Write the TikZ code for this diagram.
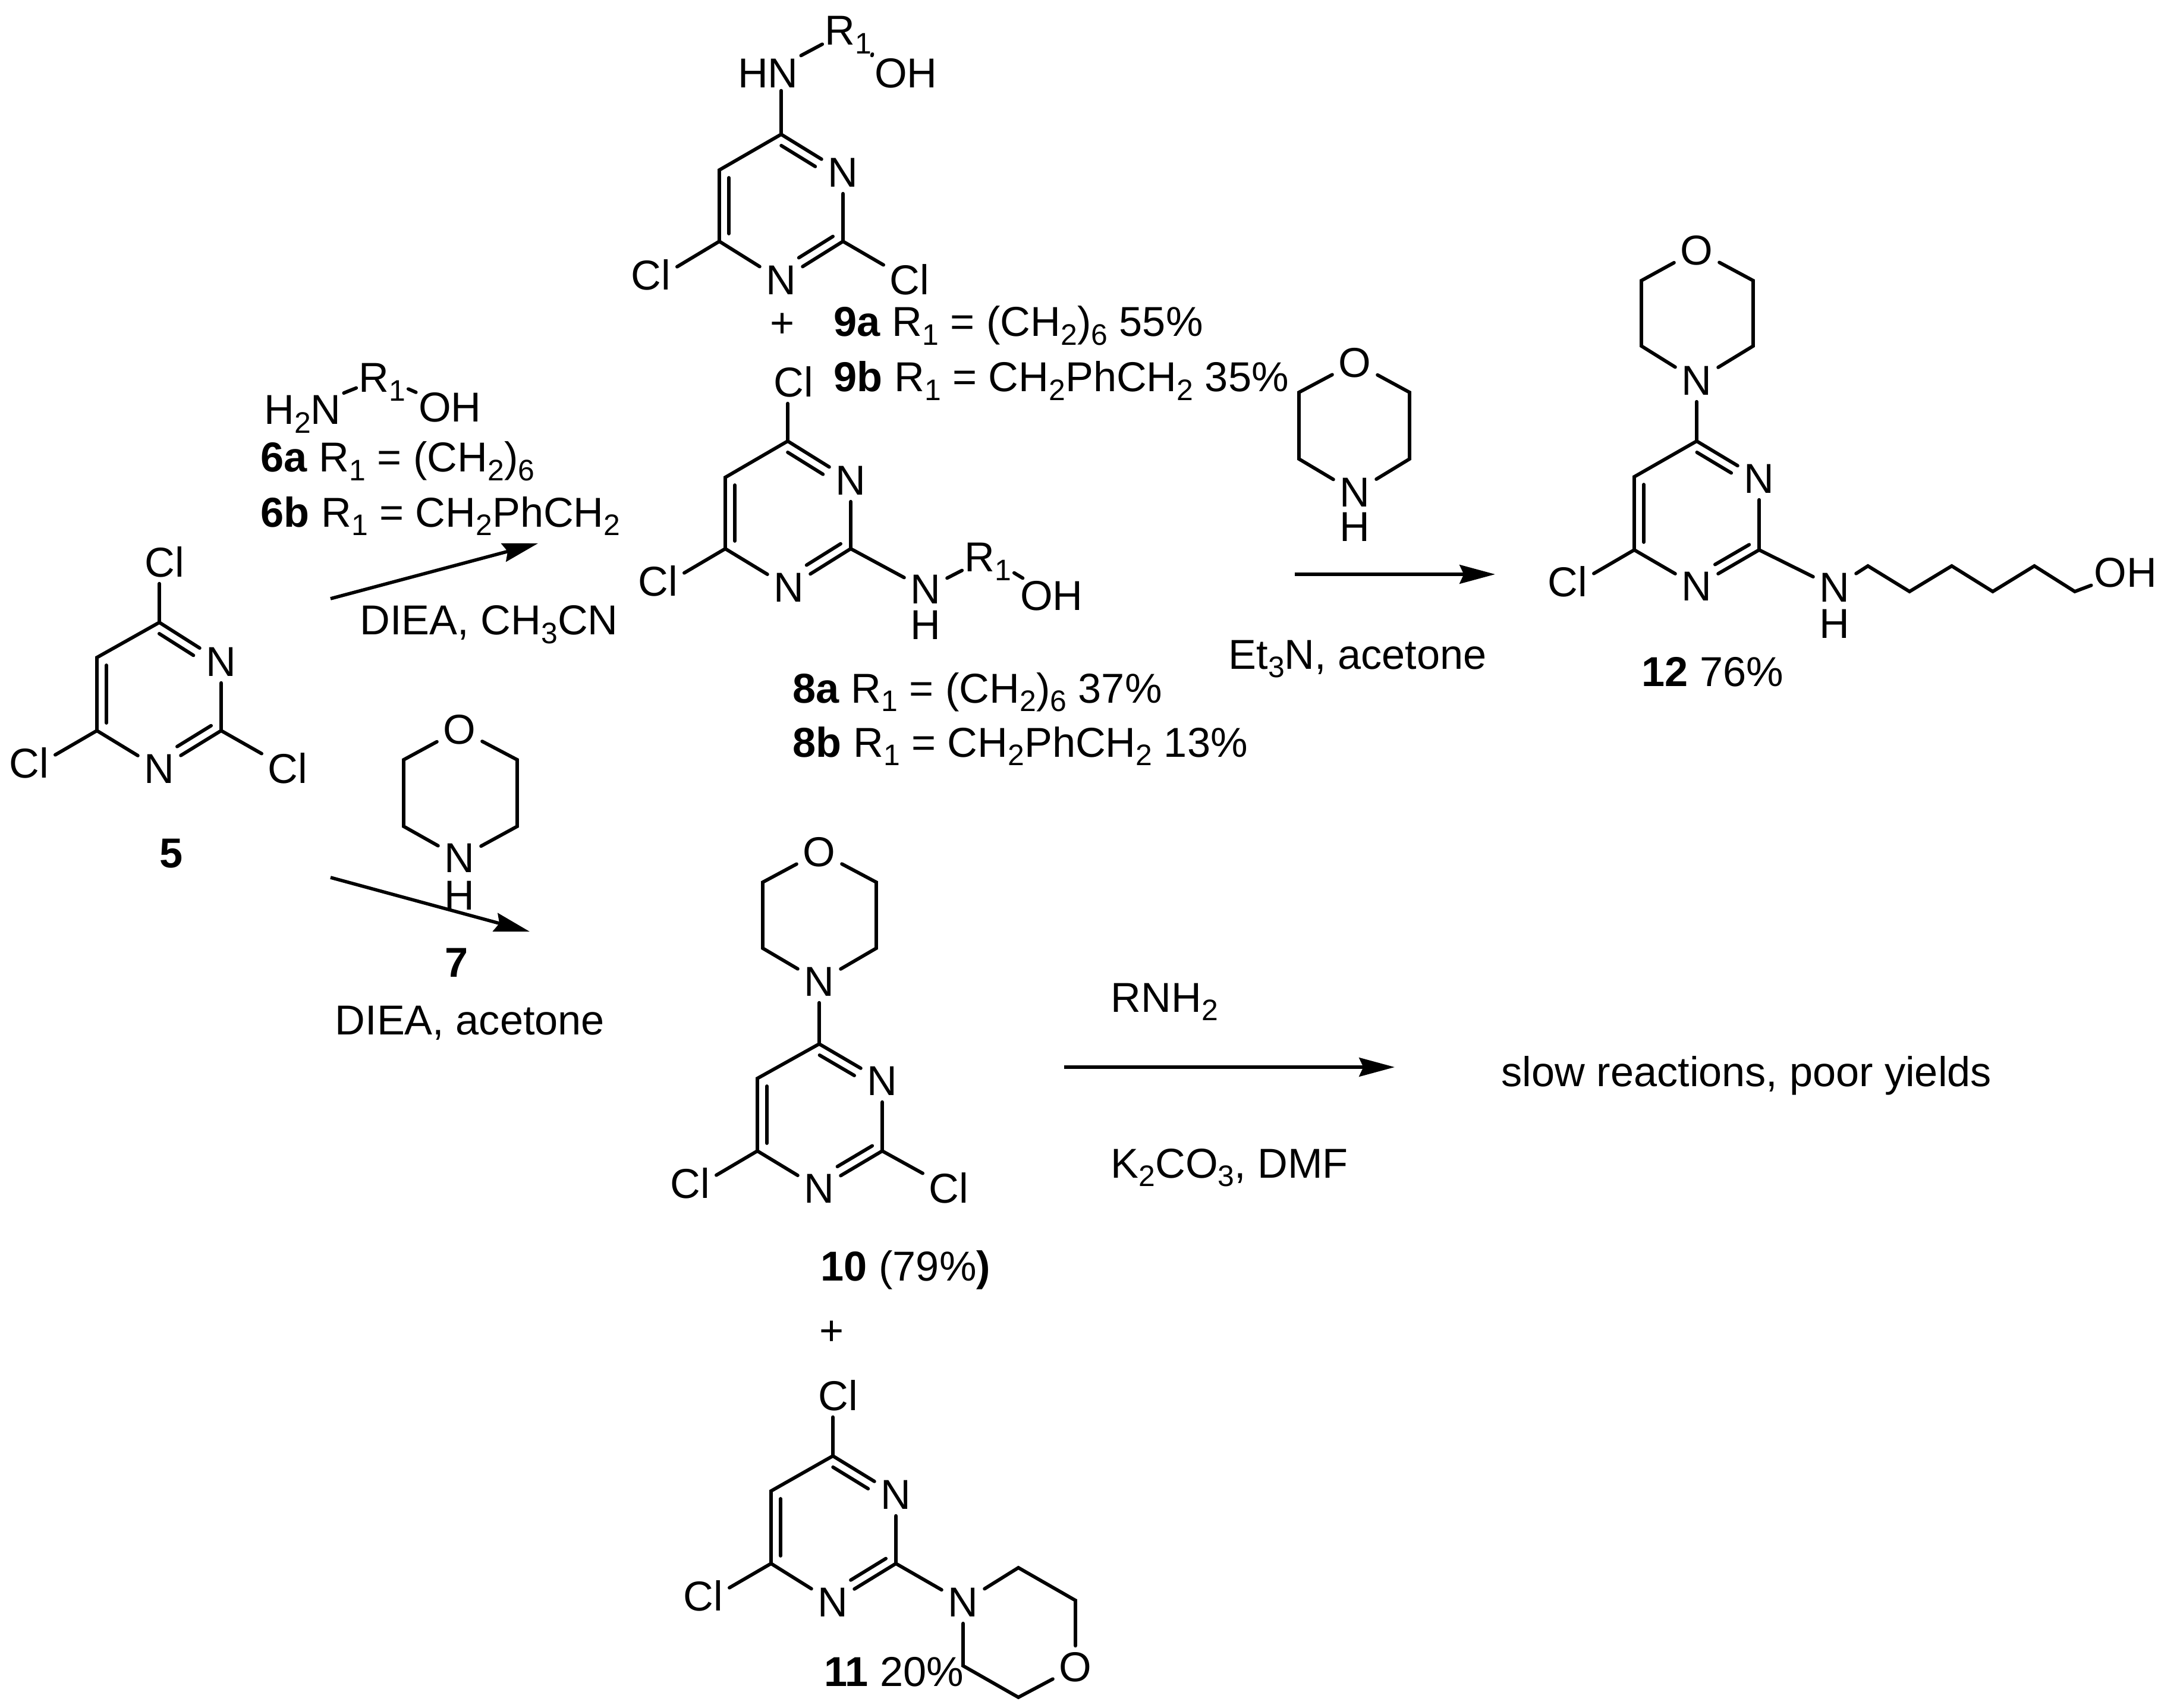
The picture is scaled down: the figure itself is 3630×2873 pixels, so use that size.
\documentclass[tikz,border=0pt]{standalone}
\usepackage{fontspec}
\setmainfont{Liberation Sans}
\usetikzlibrary{arrows.meta,calc}
\newcommand{\lowsub}[1]{\raisebox{-0.2em}{\fontsize{14.2}{15}\selectfont #1}}

\begin{document}
\begin{tikzpicture}[x=0.1mm,y=0.1mm,
  every node/.style={font=\fontsize{20}{24}\selectfont},
  atom/.style={inner sep=2.85pt,text height=14.2pt,text depth=0pt},
  rgroup/.style={inner sep=1.1pt,text height=14.2pt,text depth=0pt},
  lbl/.style={anchor=base west,inner sep=0pt},
  bond/.style={line width=1.65pt,line cap=round},
  innern/.style={bond,shorten <=1mm,shorten >=4.5mm},
  innerc/.style={bond,shorten <=1.3mm,shorten >=1.3mm},
  rxn/.style={line width=1.6pt,-{Stealth[length=17pt,width=9pt,inset=2pt]}}]
\useasboundingbox (0,0) rectangle (3630,-2873);
% compound 5
\coordinate (r5c4) at (268,-1047);
\coordinate (r5c2) at (372,-1229);
\coordinate (r5c6) at (163,-1229);
\coordinate (r5c5) at (163,-1106);
\node [atom] (r5n3) at (372,-1113) {N};
\node [atom] (r5n1) at (268,-1293) {N};
\node [atom] (r5cl4) at (277,-946) {Cl};
\node [atom] (r5cl6) at (49,-1284) {Cl};
\node [atom] (r5cl2) at (484,-1293) {Cl};
\node (num5) at (288,-1436) {\textbf{5}};
\draw [bond] (r5n3) -- (r5c2) -- (r5n1) -- (r5c6) -- (r5c5) -- (r5c4) -- (r5n3);
\draw [innern] ($(r5c4)!1.6mm!-90:(r5n3)$) -- ($(r5n3)!1.6mm!90:(r5c4)$);
\draw [innern] ($(r5c2)!1.6mm!-90:(r5n1)$) -- ($(r5n1)!1.6mm!90:(r5c2)$);
\draw [innerc] ($(r5c6)!1.6mm!-90:(r5c5)$) -- ($(r5c5)!1.6mm!90:(r5c6)$);
\draw [bond] (r5c4) -- (r5c4 |- r5cl4.south);
\draw [bond] (r5c6) -- (r5cl6.18);
\draw [bond] (r5c2) -- (r5cl2.150);
% amine 6 and upper arrow
\node [rgroup] (h2n) at (509,-689) {H\lowsub{2}N};
\node [rgroup] (r6) at (643,-635) {R\lowsub{1}};
\node [rgroup] (oh6) at (757,-685) {OH};
\draw [bond] (h2n) -- (r6);
\draw [bond] (r6) -- (oh6);
\node [lbl] (lab6a) at (438,-794) {\textbf{6a} R\lowsub{1} = (CH\lowsub{2})\lowsub{6}};
\node [lbl] (lab6b) at (438,-886) {\textbf{6b} R\lowsub{1} = CH\lowsub{2}PhCH\lowsub{2}};
\coordinate (arr1a) at (556,-1007);
\coordinate (arr1b) at (905,-914);
\draw [rxn] (arr1a) -- (arr1b);
\node [lbl] (cond1) at (605,-1068) {DIEA, CH\lowsub{3}CN};
% morpholine 7 and lower arrow
\coordinate (m7tl) at (679,-1278);
\coordinate (m7bl) at (679,-1390);
\coordinate (m7br) at (870,-1390);
\coordinate (m7tr) at (870,-1278);
\node [atom] (m7o) at (773,-1227) {O};
\node [atom] (m7n) at (773,-1443) {N};
\node [atom] (m7h) at (773,-1506) {H};
\draw [bond] (m7o) -- (m7tl) -- (m7bl) -- (m7n) -- (m7br) -- (m7tr) -- (m7o);
\node (num7) at (768,-1619) {\textbf{7}};
\coordinate (arr2a) at (556,-1476);
\coordinate (arr2b) at (891,-1567);
\draw [rxn] (arr2a) -- (arr2b);
\node [lbl] (cond2) at (563,-1740) {DIEA, acetone};
% compound 9
\coordinate (r9c4) at (1314,-226);
\coordinate (r9c2) at (1418,-406);
\coordinate (r9c6) at (1210,-406);
\coordinate (r9c5) at (1210,-286);
\node [atom] (r9n3) at (1418,-290) {N};
\node [atom] (r9n1) at (1314,-471) {N};
\node [atom] (r9cl6) at (1095,-463) {Cl};
\node [atom] (r9cl2) at (1530,-471) {Cl};
\node [rgroup] (r9hn) at (1292,-123) {HN};
\node [rgroup] (r9r) at (1427,-51) {R\lowsub{1}};
\node [rgroup] (r9oh) at (1524,-123) {OH};
\draw [bond] (r9n3) -- (r9c2) -- (r9n1) -- (r9c6) -- (r9c5) -- (r9c4) -- (r9n3);
\draw [innern] ($(r9c4)!1.6mm!-90:(r9n3)$) -- ($(r9n3)!1.6mm!90:(r9c4)$);
\draw [innern] ($(r9c2)!1.6mm!-90:(r9n1)$) -- ($(r9n1)!1.6mm!90:(r9c2)$);
\draw [innerc] ($(r9c6)!1.6mm!-90:(r9c5)$) -- ($(r9c5)!1.6mm!90:(r9c6)$);
\draw [bond] (r9c4) -- (r9c4 |- r9hn.south);
\draw [bond] (r9c6) -- (r9cl6.18);
\draw [bond] (r9c2) -- (r9cl2.150);
\draw [bond] (r9hn) -- (r9r);
\draw [bond,shorten <=1.1mm] (r9r.south east) -- (r9oh.north west);
\node (plus1) at (1316,-547) {+};
\node [lbl] (lab9a) at (1402,-566) {\textbf{9a} R\lowsub{1} = (CH\lowsub{2})\lowsub{6} 55\%};
\node [lbl] (lab9b) at (1402,-659) {\textbf{9b} R\lowsub{1} = CH\lowsub{2}PhCH\lowsub{2} 35\%};
% compound 8
\coordinate (r8c4) at (1325,-742);
\coordinate (r8c2) at (1431,-923);
\coordinate (r8c6) at (1220,-923);
\coordinate (r8c5) at (1220,-803);
\node [atom] (r8n3) at (1431,-808) {N};
\node [atom] (r8n1) at (1327,-988) {N};
\node [atom] (r8cl4) at (1335,-643) {Cl};
\node [atom] (r8cl6) at (1107,-978) {Cl};
\node [atom] (r8nh) at (1557,-991) {N};
\node [atom] (r8h) at (1557,-1051) {H};
\node [rgroup] (r8r) at (1662,-937) {R\lowsub{1}};
\node [rgroup] (r8oh) at (1769,-1002) {OH};
\draw [bond] (r8n3) -- (r8c2) -- (r8n1) -- (r8c6) -- (r8c5) -- (r8c4) -- (r8n3);
\draw [innern] ($(r8c4)!1.6mm!-90:(r8n3)$) -- ($(r8n3)!1.6mm!90:(r8c4)$);
\draw [innern] ($(r8c2)!1.6mm!-90:(r8n1)$) -- ($(r8n1)!1.6mm!90:(r8c2)$);
\draw [innerc] ($(r8c6)!1.6mm!-90:(r8c5)$) -- ($(r8c5)!1.6mm!90:(r8c6)$);
\draw [bond] (r8c4) -- (r8c4 |- r8cl4.south);
\draw [bond] (r8c6) -- (r8cl6.18);
\draw [bond] (r8c2) -- (r8nh);
\draw [bond] (r8nh) -- (r8r);
\draw [bond] (r8r) -- (r8oh);
\node [lbl] (lab8a) at (1333,-1182) {\textbf{8a} R\lowsub{1} = (CH\lowsub{2})\lowsub{6} 37\%};
\node [lbl] (lab8b) at (1333,-1273) {\textbf{8b} R\lowsub{1} = CH\lowsub{2}PhCH\lowsub{2} 13\%};
% morpholine over the right arrow
\coordinate (m3tl) at (2185,-660);
\coordinate (m3bl) at (2185,-772);
\coordinate (m3br) at (2371,-772);
\coordinate (m3tr) at (2371,-660);
\node [atom] (m3o) at (2279,-610) {O};
\node [atom] (m3n) at (2279,-828) {N};
\node [atom] (m3h) at (2279,-886) {H};
\draw [bond] (m3o) -- (m3tl) -- (m3bl) -- (m3n) -- (m3br) -- (m3tr) -- (m3o);
\coordinate (arr3a) at (2178,-966);
\coordinate (arr3b) at (2515,-966);
\draw [rxn] (arr3a) -- (arr3b);
\node [lbl] (cond3) at (2066,-1125) {Et\lowsub{3}N, acetone};
% compound 12
\coordinate (r12c4) at (2854,-742);
\coordinate (r12c2) at (2959,-925);
\coordinate (r12c6) at (2749,-925);
\coordinate (r12c5) at (2749,-802);
\node [atom] (r12n3) at (2959,-805) {N};
\node [atom] (r12n1) at (2854,-986) {N};
\node [atom] (r12cl) at (2637,-979) {Cl};
\draw [bond] (r12n3) -- (r12c2) -- (r12n1) -- (r12c6) -- (r12c5) -- (r12c4) -- (r12n3);
\draw [innern] ($(r12c4)!1.6mm!-90:(r12n3)$) -- ($(r12n3)!1.6mm!90:(r12c4)$);
\draw [innern] ($(r12c2)!1.6mm!-90:(r12n1)$) -- ($(r12n1)!1.6mm!90:(r12c2)$);
\draw [innerc] ($(r12c6)!1.6mm!-90:(r12c5)$) -- ($(r12c5)!1.6mm!90:(r12c6)$);
\draw [bond] (r12c6) -- (r12cl.18);
\coordinate (m12tl) at (2761,-472);
\coordinate (m12bl) at (2761,-582);
\coordinate (m12br) at (2949,-582);
\coordinate (m12tr) at (2949,-472);
\node [atom] (m12o) at (2854,-421) {O};
\node [atom] (m12n) at (2854,-640) {N};
\draw [bond] (m12o) -- (m12tl) -- (m12bl) -- (m12n) -- (m12br) -- (m12tr) -- (m12o);
\draw [bond] (r12c4) -- (m12n);
\node [atom] (r12nh) at (3086,-988) {N};
\node [atom] (r12h) at (3086,-1049) {H};
\coordinate (ch1) at (3142,-952);
\coordinate (ch2) at (3212,-995);
\coordinate (ch3) at (3283,-952);
\coordinate (ch4) at (3352,-995);
\coordinate (ch5) at (3422,-952);
\coordinate (ch6) at (3490,-995);
\node [rgroup] (r12oh) at (3575,-963) {OH};
\draw [bond] (r12c2) -- (r12nh);
\draw [bond] (r12nh) -- (ch1) -- (ch2) -- (ch3) -- (ch4) -- (ch5) -- (ch6) -- (r12oh);
\node [lbl] (lab12) at (2761,-1154) {\textbf{12} 76\%};
% compound 10
\coordinate (r10c4) at (1378,-1756);
\coordinate (r10c2) at (1484,-1936);
\coordinate (r10c6) at (1274,-1936);
\coordinate (r10c5) at (1274,-1814);
\node [atom] (r10n3) at (1484,-1818) {N};
\node [atom] (r10n1) at (1378,-1999) {N};
\node [atom] (r10cl6) at (1161,-1991) {Cl};
\node [atom] (r10cl2) at (1596,-1999) {Cl};
\draw [bond] (r10n3) -- (r10c2) -- (r10n1) -- (r10c6) -- (r10c5) -- (r10c4) -- (r10n3);
\draw [innern] ($(r10c4)!1.6mm!-90:(r10n3)$) -- ($(r10n3)!1.6mm!90:(r10c4)$);
\draw [innern] ($(r10c2)!1.6mm!-90:(r10n1)$) -- ($(r10n1)!1.6mm!90:(r10c2)$);
\draw [innerc] ($(r10c6)!1.6mm!-90:(r10c5)$) -- ($(r10c5)!1.6mm!90:(r10c6)$);
\draw [bond] (r10c6) -- (r10cl6.18);
\draw [bond] (r10c2) -- (r10cl2.150);
\coordinate (m10tl) at (1283,-1484);
\coordinate (m10bl) at (1283,-1595);
\coordinate (m10br) at (1474,-1595);
\coordinate (m10tr) at (1474,-1484);
\node [atom] (m10o) at (1378,-1433) {O};
\node [atom] (m10n) at (1378,-1651) {N};
\draw [bond] (m10o) -- (m10tl) -- (m10bl) -- (m10n) -- (m10br) -- (m10tr) -- (m10o);
\draw [bond] (r10c4) -- (m10n);
\node [lbl] (lab10) at (1380,-2154) {\textbf{10} (79\%\textbf{)}};
\node (plus2) at (1399,-2242) {+};
% compound 11
\coordinate (r11c4) at (1401,-2449);
\coordinate (r11c2) at (1507,-2630);
\coordinate (r11c6) at (1297,-2630);
\coordinate (r11c5) at (1297,-2508);
\node [atom] (r11n3) at (1507,-2514) {N};
\node [atom] (r11n1) at (1401,-2695) {N};
\node [atom] (r11cl4) at (1410,-2348) {Cl};
\node [atom] (r11cl6) at (1183,-2685) {Cl};
\draw [bond] (r11n3) -- (r11c2) -- (r11n1) -- (r11c6) -- (r11c5) -- (r11c4) -- (r11n3);
\draw [innern] ($(r11c4)!1.6mm!-90:(r11n3)$) -- ($(r11n3)!1.6mm!90:(r11c4)$);
\draw [innern] ($(r11c2)!1.6mm!-90:(r11n1)$) -- ($(r11n1)!1.6mm!90:(r11c2)$);
\draw [innerc] ($(r11c6)!1.6mm!-90:(r11c5)$) -- ($(r11c5)!1.6mm!90:(r11c6)$);
\draw [bond] (r11c4) -- (r11c4 |- r11cl4.south);
\draw [bond] (r11c6) -- (r11cl6.18);
\coordinate (m11a) at (1713,-2637);
\coordinate (m11b) at (1809,-2692);
\coordinate (m11c) at (1713,-2855);
\coordinate (m11d) at (1620,-2802);
\node [atom] (m11n) at (1620,-2695) {N};
\node [atom] (m11o) at (1809,-2804) {O};
\draw [bond] (m11n) -- (m11a) -- (m11b) -- (m11o) -- (m11c) -- (m11d) -- (m11n);
\draw [bond] (r11c2) -- (m11n);
\node [lbl] (lab11) at (1386,-2836) {\textbf{11} 20\%};
% last step
\coordinate (arr4a) at (1790,-1795);
\coordinate (arr4b) at (2346,-1795);
\draw [rxn] (arr4a) -- (arr4b);
\node [lbl] (cond4) at (1868,-1702) {RNH\lowsub{2}};
\node [lbl] (cond5) at (1868,-1981) {K\lowsub{2}CO\lowsub{3}, DMF};
\node [lbl] (slow) at (2525,-1827) {slow reactions, poor yields};
\end{tikzpicture}
\end{document}
